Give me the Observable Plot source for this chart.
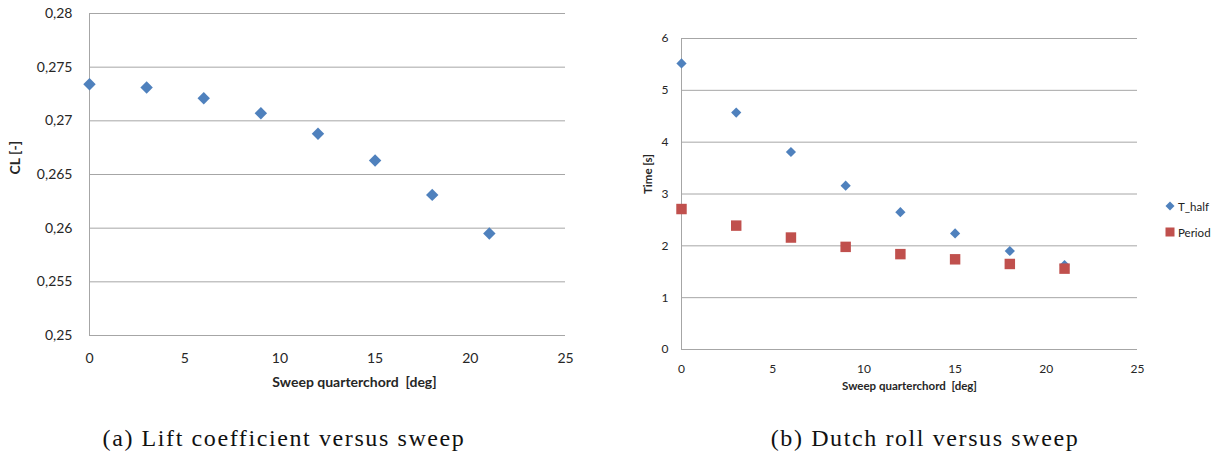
<!DOCTYPE html>
<html>
<head>
<meta charset="utf-8">
<script src="https://cdn.jsdelivr.net/npm/d3@7"></script>
<script src="https://cdn.jsdelivr.net/npm/@observablehq/plot@0.6"></script>
<style>
  html, body { margin: 0; padding: 0; background: #fff; }
  #page { position: relative; width: 1224px; height: 456px; overflow: hidden; font-family: Lato, sans-serif; }
  .panel { position: absolute; top: 0; }
  .caption { position: absolute; top: 425px; font-family: "Liberation Serif", serif; font-size: 24px; letter-spacing: 1.6px; line-height: 27px; color: #111; transform: translateX(-50%); white-space: nowrap; }
  .legend { position: absolute; left: 1164px; top: 198px; font-family: Lato, sans-serif; font-size: 11.5px; color: #222; }
  .legend .item { display: flex; align-items: center; height: 16px; margin-bottom: 10px; }
  .legend svg { margin-right: 2px; }
</style>
</head>
<body>
<div id="page">
  <div id="left" class="panel" style="left:0px"></div>
  <div id="right" class="panel" style="left:612px"></div>
  <div class="caption" style="left:284px">(a) Lift coefficient versus sweep</div>
  <div class="caption" style="left:925px">(b) Dutch roll versus sweep</div>
  <div class="legend">
    <div class="item"><svg width="12" height="12"><path d="M6,1.5L10.5,6L6,10.5L1.5,6Z" fill="#4f81bd"/></svg><span>T_half</span></div>
    <div class="item"><svg width="12" height="12"><rect x="1.5" y="1.5" width="9" height="9" fill="#c0504d"/></svg><span>Period</span></div>
  </div>
</div>
<script>
// Sweep angle of the quarter-chord line [deg]
const sweep = [0, 3, 6, 9, 12, 15, 18, 21];
// Lift coefficient at each sweep angle
const liftCoefficient = [0.2734, 0.2731, 0.2721, 0.2707, 0.2688, 0.2663, 0.2631, 0.2595];
// Dutch roll: time to half amplitude and oscillation period [s]
const tHalf = [5.52, 4.57, 3.81, 3.16, 2.65, 2.24, 1.90, 1.63];
const period = [2.71, 2.39, 2.16, 1.98, 1.84, 1.74, 1.65, 1.56];

// Axis ticks
const sweepTicks = [0, 5, 10, 15, 20, 25];
const clTicks = [0.25, 0.255, 0.26, 0.265, 0.27, 0.275, 0.28];
const timeTicks = [0, 1, 2, 3, 4, 5, 6];

const seriesNames = ["T_half", "Period"];

const BLUE = "#4f81bd";
const RED = "#c0504d";
const GRID = "#a6a6a6";
const INK = "#262626";

const comma = d => String(d).replace(".", ",");
const plain = d => String(d);

const liftData = sweep.map((s, i) => ({sweep: s, cl: liftCoefficient[i]}));
const rollData = sweep.flatMap((s, i) => [
  {sweep: s, series: seriesNames[0], time: tHalf[i]},
  {sweep: s, series: seriesNames[1], time: period[i]}
]);

// (a) Lift coefficient versus sweep
const left = Plot.plot({
  width: 600,
  height: 400,
  marginLeft: 89,
  marginRight: 35,
  marginTop: 13,
  marginBottom: 65,
  style: {fontFamily: "Lato, sans-serif", fontSize: "14px", color: INK, background: "#fff"},
  x: {domain: [0, 25]},
  y: {domain: [0.25, 0.28]},
  marks: [
    Plot.gridY(clTicks, {stroke: GRID, strokeOpacity: 1, strokeWidth: 1}),
    Plot.ruleX([0], {stroke: GRID, strokeWidth: 1}),
    Plot.axisY(clTicks, {tickSize: 0, tickPadding: 17, tickFormat: comma, label: null}),
    Plot.axisX(sweepTicks, {tickSize: 0, tickPadding: 18, tickFormat: plain, label: null}),
    Plot.dot(liftData, {x: "sweep", y: "cl", symbol: "diamond2", r: 5.6, fill: BLUE}),
    Plot.text(["Sweep quarterchord  [deg]"], {text: d => d, frameAnchor: "bottom", dx: 27, dy: 51, fontWeight: "bold", fontSize: 14, fill: INK}),
    Plot.text(["CL [-]"], {text: d => d, frameAnchor: "left", rotate: -90, dx: -74, fontWeight: "bold", fontSize: 14, fill: INK})
  ]
});
document.getElementById("left").append(left);

// (b) Dutch roll versus sweep
const right = Plot.plot({
  width: 612,
  height: 400,
  marginLeft: 69,
  marginRight: 87,
  marginTop: 38,
  marginBottom: 51,
  style: {fontFamily: "Lato, sans-serif", fontSize: "12px", color: INK, background: "#fff"},
  x: {domain: [0, 25]},
  y: {domain: [0, 6]},
  symbol: {domain: seriesNames, range: ["diamond2", "square"]},
  color: {domain: seriesNames, range: [BLUE, RED]},
  marks: [
    Plot.gridY(timeTicks, {stroke: GRID, strokeOpacity: 1, strokeWidth: 1}),
    Plot.ruleX([0], {stroke: GRID, strokeWidth: 1}),
    Plot.axisY(timeTicks, {tickSize: 0, tickPadding: 13, tickFormat: plain, label: null}),
    Plot.axisX(sweepTicks, {tickSize: 0, tickPadding: 15, tickFormat: plain, label: null}),
    Plot.dot(rollData.filter(d => d.series === "T_half"), {x: "sweep", y: "time", symbol: "series", fill: "series", r: 4.6}),
    Plot.dot(rollData.filter(d => d.series === "Period"), {x: "sweep", y: "time", symbol: "series", fill: "series", r: 5.9}),
    Plot.text(["Sweep quarterchord  [deg]"], {text: d => d, frameAnchor: "bottom", dx: 0, dy: 40, fontWeight: "bold", fontSize: 11.5, fill: INK}),
    Plot.text(["Time [s]"], {text: d => d, frameAnchor: "left", rotate: -90, dx: -33, fontWeight: "bold", fontSize: 11.5, fill: INK})
  ]
});
document.getElementById("right").append(right);
</script>
</body>
</html>
